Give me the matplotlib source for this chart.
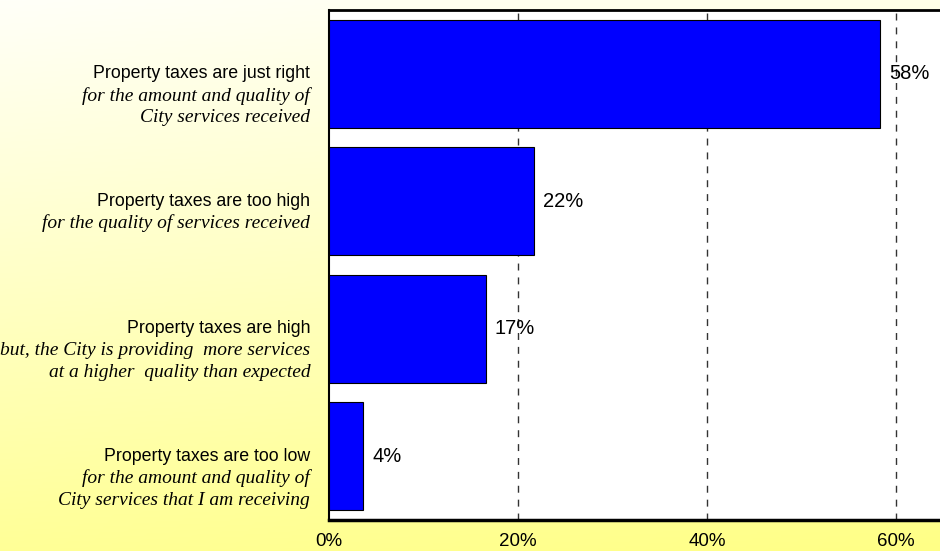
import numpy as np
import matplotlib.pyplot as plt
from matplotlib.colors import LinearSegmentedColormap

#   the data
headlines = ['Property taxes are just right',
             'Property taxes are too high',
             'Property taxes are high',
             'Property taxes are too low']
sublines = [['for the amount and quality of', 'City services received'],
            ['for the quality of services received'],
            ['but, the City is providing  more services', 'at a higher  quality than expected'],
            ['for the amount and quality of', 'City services that I am receiving']]
values = [58.3, 21.7, 16.6, 3.6]
value_labels = ['58%', '22%', '17%', '4%']
ticks = [0, 20, 40, 60]
tick_labels = ['0%', '20%', '40%', '60%']

fig = plt.figure(figsize=(9.4, 5.51), dpi=100)

#   yellow gradient background
bg = fig.add_axes([0, 0, 1, 1], zorder=-10)
yy, xx = np.mgrid[0:1:200j, 0:1:200j]
grad = np.clip(0.85 * yy + 0.15 * xx, 0, 1)
cmap = LinearSegmentedColormap.from_list('bg', ['#FFFFF8', '#FFFF86'])
bg.imshow(grad, cmap=cmap, aspect='auto', extent=[0, 1, 0, 1], origin='upper')
bg.axis('off')

#   the plot area
ax = fig.add_axes([329 / 940, 31 / 551, 611 / 940, 510 / 551])
ax.set_facecolor('white')
pos = np.arange(len(values))
ax.barh(pos, values, height=0.85, color='#0000FF', edgecolor='black', linewidth=0.8, zorder=3)
ax.set_ylim(3.5, -0.5)
ax.set_xlim(0, 64.65)

for x in ticks[1:]:
    ax.axvline(x, color='#333333', linestyle=(0, (5, 5)), linewidth=1, zorder=1)

for p, v, lab in zip(pos, values, value_labels):
    ax.annotate(lab, (v, p), xytext=(6.5, 0), textcoords='offset points',
                ha='left', va='center', fontsize=14.5, family='Liberation Sans', zorder=4)

#   category labels, sans headline then italic serif lines
for p, head, subs in zip(pos, headlines, sublines):
    ax.annotate(head + ' ', (0, p), xycoords=('axes fraction', 'data'), xytext=(-10, 0),
                textcoords='offset points', ha='right', va='center', fontsize=12.8,
                family='Liberation Sans', annotation_clip=False)
    for i, s in enumerate(subs):
        ax.annotate(s + ' ', (0, p), xycoords=('axes fraction', 'data'),
                    xytext=(-10, -15.8 * (i + 1)), textcoords='offset points',
                    ha='right', va='center', fontsize=14, style='italic',
                    family='Liberation Serif', annotation_clip=False)

ax.set_yticks([])
ax.set_xticks(ticks)
ax.set_xticklabels(tick_labels, fontsize=13.5, family='Liberation Sans')
ax.tick_params(axis='x', length=0, pad=9)
ax.spines['right'].set_visible(False)
ax.spines['top'].set_linewidth(2)
ax.spines['bottom'].set_linewidth(2.5)
ax.spines['left'].set_linewidth(1.5)

fig.savefig('out.png', dpi=100)
